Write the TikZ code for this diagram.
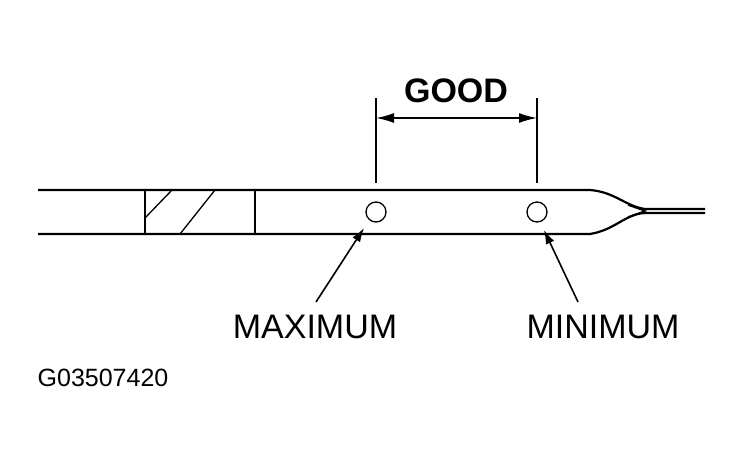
\documentclass[tikz,border=0pt]{standalone}
\usepackage{fontspec}
\setmainfont{Liberation Sans}
\usetikzlibrary{arrows.meta}
\begin{document}
\begin{tikzpicture}[x=1pt,y=-1pt,
  ln/.style={line width=2.2pt},
  thin/.style={line width=1.3pt},
  lbl/.style={font=\fontsize{34}{35}\selectfont, inner sep=0pt},
  ar/.style={line width=1.6pt,-{Latex[length=14pt,width=9pt]}}]
\useasboundingbox (0,0) rectangle (741,458);
\draw[ln] (38,190) -- (590,190) .. controls (615,192) and (625,206) .. (645,209) -- (705,209);
\draw[ln] (38,234) -- (590,234) .. controls (615,230) and (625,214) .. (645,213) -- (705,213);
\draw[line width=1.5pt] (628,205) -- (645,211) -- (628,217);
\draw[thin] (145,190) -- (145,234);
\draw[thin] (255,190) -- (255,234);
\draw[thin] (145,218) -- (172,190);
\draw[thin] (180,234) -- (215,190);
\node[circle,draw,thin,minimum size=20pt,inner sep=0pt] (c1) at (376,212) {};
\node[circle,draw,thin,minimum size=20pt,inner sep=0pt] (c2) at (537,212) {};
\coordinate (e1t) at (376,98); \coordinate (e1b) at (376,183);
\coordinate (e2t) at (537,98); \coordinate (e2b) at (537,183);
\draw[thin] (e1t) -- (e1b);
\draw[thin] (e2t) -- (e2b);
\coordinate (a1) at (376,118); \coordinate (a2) at (537,118);
\draw[line width=1.6pt,{Latex[length=18pt,width=10pt]}-{Latex[length=18pt,width=10pt]}] (a1) -- (a2);
\node[lbl,font=\bfseries\fontsize{34}{35}\selectfont] (good) at (456,91) {GOOD};
\node[lbl] (max) at (315,327) {MAXIMUM};
\node[lbl] (min) at (603,327) {MINIMUM};
\draw[ar] (316,302) -- (364,228);
\draw[ar] (578,302) -- (544,230);
\node[inner sep=0pt,font=\fontsize{25}{26}\selectfont] (code) at (103,378) {G03507420};
\end{tikzpicture}
\end{document}
